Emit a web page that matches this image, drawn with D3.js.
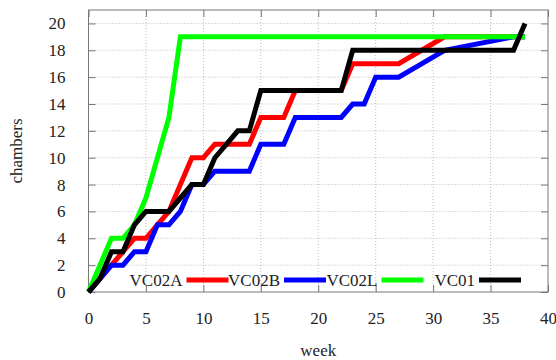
<!DOCTYPE html>
<html>
<head>
<meta charset="utf-8">
<script src="https://cdn.jsdelivr.net/npm/d3@7"></script>
<style>
  body { margin: 0; background: #fff; }
  svg text { font-family: "Liberation Serif", "DejaVu Serif", serif; }
</style>
</head>
<body>
<svg id="chart"></svg>
<script>
// data: [week, chambers]
const seriesNames = ["VC02A", "VC02B", "VC02L", "VC01"];
const seriesColors = ["#ff0000", "#0000ff", "#00ff00", "#000000"];

const vc02a = [[0,0],[1,1],[2,2],[3,3],[4,4],[5,4],[6,5],[7,6],[8,8],[9,10],[10,10],[11,11],[14,11],[15,13],[17,13],[18,15],[22,15],[23,17],[27,17],[31,19],[38,19]];
const vc02b = [[0,0],[1,1],[2,2],[3,2],[4,3],[5,3],[6,5],[7,5],[8,6],[9,8],[10,8],[11,9],[14,9],[15,11],[17,11],[18,13],[22,13],[23,14],[24,14],[25,16],[27,16],[31,18],[37,19],[38,19]];
const vc02l = [[0,0],[2,4],[3,4],[4,5],[5,7],[6,10],[7,13],[8,19],[38,19]];
const vc01 = [[0,0],[1,1],[2,3],[3,3],[4,5],[5,6],[7,6],[8,7],[9,8],[10,8],[11,10],[12,11],[13,12],[14,12],[15,15],[22,15],[23,18],[37,18],[38,20]];

const xTicks = [0, 5, 10, 15, 20, 25, 30, 35, 40];
const yTicks = [0, 2, 4, 6, 8, 10, 12, 14, 16, 18, 20];

const config = {
    width: 556,
    height: 360,
    margin: { top: 10, right: 8, bottom: 68, left: 88.5 },
    fontSize: "17px"
};

const svg = d3.select("#chart")
    .attr("width", config.width)
    .attr("height", config.height);

const innerW = config.width - config.margin.left - config.margin.right;
const innerH = config.height - config.margin.top - config.margin.bottom;

const x = d3.scaleLinear().domain([0, 40]).range([0, innerW]);
const y = d3.scaleLinear().domain([0, 21]).range([innerH, 0]);

const g = svg.append("g")
    .attr("transform", `translate(${config.margin.left},${config.margin.top})`);

// grid (dotted)
g.append("g").selectAll("line")
    .data(xTicks.slice(1, -1))
    .join("line")
    .attr("x1", d => x(d)).attr("x2", d => x(d))
    .attr("y1", 0).attr("y2", innerH)
    .attr("stroke", "#bbb").attr("stroke-width", 1)
    .attr("stroke-dasharray", "1,2");

g.append("g").selectAll("line")
    .data(yTicks.slice(1))
    .join("line")
    .attr("x1", 0).attr("x2", innerW)
    .attr("y1", d => y(d)).attr("y2", d => y(d))
    .attr("stroke", "#bbb").attr("stroke-width", 1)
    .attr("stroke-dasharray", "1,2");

// axes, ticks pointing inward, mirrored on top/right
const tickColor = "#777";
function styleAxis(sel) {
    sel.select(".domain").remove();
    sel.selectAll(".tick line").attr("stroke", tickColor);
    sel.selectAll(".tick text")
        .attr("fill", "#222")
        .style("font-size", config.fontSize);
}

g.append("g")
    .attr("transform", `translate(0,${innerH})`)
    .call(d3.axisBottom(x).tickValues(xTicks).tickSize(-7).tickPadding(20))
    .call(styleAxis);

g.append("g")
    .call(d3.axisTop(x).tickValues(xTicks).tickSize(-7).tickFormat(""))
    .call(styleAxis);

g.append("g")
    .call(d3.axisLeft(y).tickValues(yTicks).tickSize(-7).tickPadding(23))
    .call(styleAxis);

g.append("g")
    .attr("transform", `translate(${innerW},0)`)
    .call(d3.axisRight(y).tickValues(yTicks).tickSize(-7).tickFormat(""))
    .call(styleAxis);

// frame
g.append("rect")
    .attr("width", innerW).attr("height", innerH)
    .attr("fill", "none").attr("stroke", tickColor).attr("stroke-width", 1);

// series lines
const allSeries = [vc02a, vc02b, vc02l, vc01];
const line = d3.line().x(d => x(d[0])).y(d => y(d[1]));

g.append("g").selectAll("path")
    .data(allSeries)
    .join("path")
    .attr("d", line)
    .attr("fill", "none")
    .attr("stroke", (d, i) => seriesColors[i])
    .attr("stroke-width", 5)
    .attr("stroke-linejoin", "miter");

// key along the bottom, text then sample
const keyY = innerH - 12;
const key = g.append("g").selectAll("g")
    .data(seriesNames)
    .join("g")
    .attr("transform", (d, i) => `translate(${94 + i * 97.5},${keyY})`);

key.append("text")
    .attr("text-anchor", "end")
    .attr("dy", "0.35em")
    .style("font-size", config.fontSize)
    .attr("fill", "#222")
    .text(d => d);

key.append("line")
    .attr("x1", 4).attr("x2", 46)
    .attr("stroke", (d, i) => seriesColors[i])
    .attr("stroke-width", 5);

// axis titles
svg.append("text")
    .attr("x", config.margin.left + innerW / 2)
    .attr("y", 356)
    .attr("text-anchor", "middle")
    .style("font-size", config.fontSize)
    .attr("fill", "#222")
    .text("week");

svg.append("text")
    .attr("transform", `translate(22,${config.margin.top + innerH / 2}) rotate(-90)`)
    .attr("text-anchor", "middle")
    .style("font-size", config.fontSize)
    .attr("fill", "#222")
    .text("chambers");
</script>
</body>
</html>
